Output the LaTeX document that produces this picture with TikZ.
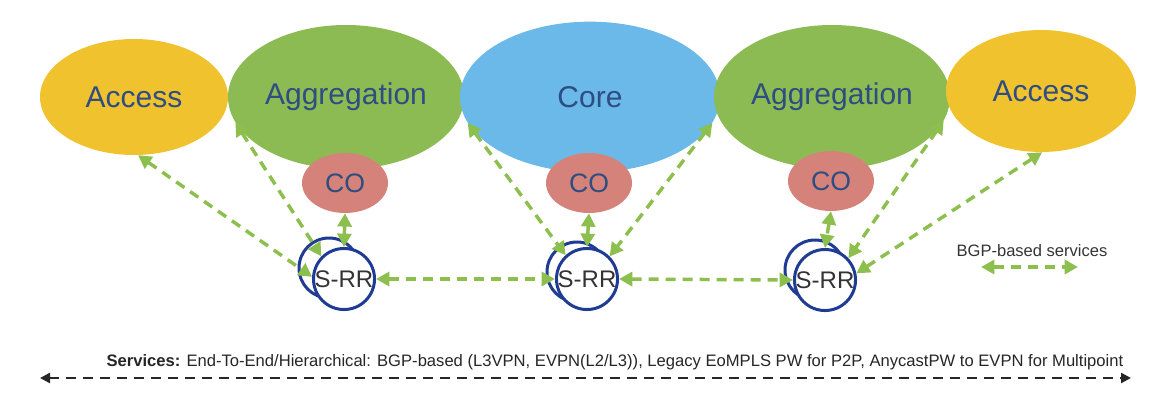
\documentclass[tikz,border=0pt]{standalone}
\usepackage{fontspec}
\setmainfont{Liberation Sans}
\usetikzlibrary{shapes.geometric,arrows.meta}
\definecolor{accessc}{HTML}{F0C22E}
\definecolor{aggc}{HTML}{8DBB53}
\definecolor{corec}{HTML}{6BB9E8}
\definecolor{coc}{HTML}{D5837A}
\definecolor{labc}{HTML}{2E4D82}
\definecolor{navy}{HTML}{1F3B93}
\definecolor{arrc}{HTML}{8DBF4F}
\tikzset{
  blob/.style={ellipse,inner sep=0pt,text=labc,font=\fontsize{22.5}{24}\selectfont},
  cobox/.style={ellipse,fill=coc,inner sep=0pt,minimum width=64.5pt,minimum height=45pt,text=labc,font=\fontsize{20}{22}\selectfont},
  srr/.style={circle,draw=navy,line width=2.25pt,fill=white,minimum size=45pt,inner sep=0pt,text=black!80,font=\fontsize{18}{20}\selectfont},
  bgp/.style={draw=arrc,line width=2.6pt,dash pattern=on 7.5pt off 5.25pt,{Triangle[length=10pt,width=10.5pt]}-{Triangle[length=10pt,width=10.5pt]}},
  svc/.style={draw=black!85,line width=1.8pt,dash pattern=on 7.5pt off 5.25pt,{Triangle[length=7.5pt,width=7.5pt]}-{Triangle[length=7.5pt,width=7.5pt]}}
}
\begin{document}
\begin{tikzpicture}[x=0.75pt,y=-0.75pt]
\useasboundingbox (0,0) rectangle (1167,410);
% ellipses
\node[blob,fill=accessc,minimum width=141pt,minimum height=87pt] (accL) at (134,97) {Access};
\node[blob,fill=aggc,minimum width=177pt,minimum height=108pt] (aggL) at (346,97) {Aggregation};
\node[blob,fill=corec,minimum width=195pt,minimum height=113pt] (core) at (590,97) {Core};
\node[blob,fill=aggc,minimum width=177pt,minimum height=108pt] (aggR) at (832,97) {Aggregation};
\node[blob,fill=accessc,minimum width=142.5pt,minimum height=91.5pt] (accR) at (1041,91) {Access};
% CO
\node[cobox] (coL) at (345,183) {CO};
\node[cobox] (coM) at (589,183) {CO};
\node[cobox] (coR) at (831,181) {CO};
% S-RR
\node[srr] (srrLb) at (329,268) {};
\node[srr] (srrL) at (344,279) {S-RR};
\node[srr] (srrMb) at (577,272) {};
\node[srr] (srrM) at (587,279) {S-RR};
\node[srr] (srrRb) at (815,270) {};
\node[srr] (srrR) at (825,280) {S-RR};
% BGP arrows
\draw[bgp] (accL.-86) -- (srrL.176);
\draw[bgp] (aggL.-167) -- (srrL.135);
\draw[bgp] (coL.south) -- (srrL.north);
\draw[bgp] (srrL.east) -- (srrM.west);
\draw[bgp] (core.-168) -- (srrM.132);
\draw[bgp] (core.-12) -- (srrM.45);
\draw[bgp] (coM.south) -- (srrM.north);
\draw[bgp] (srrM.east) -- (srrR.west);
\draw[bgp] (aggR.-12.6) -- (srrR.43);
\draw[bgp] (accR.-89) -- (srrR.12);
\draw[bgp] (coR.south) -- (srrR.north);
% legend
\node[font=\fontsize{12.4}{14}\selectfont,text=black!80] (leg) at (1032,251) {BGP-based services};
\coordinate (legA) at (981,267);
\coordinate (legB) at (1078,267);
\draw[bgp] (legA) -- (legB);
% services
\node[font=\fontsize{12.45}{14}\selectfont,text=black!85,anchor=east] (svct) at (1128,362) {\textbf{Services:} End-To-End/Hierarchical: BGP-based (L3VPN, EVPN(L2/L3)), Legacy EoMPLS PW for P2P, AnycastPW to EVPN for Multipoint};
\coordinate (svA) at (40,378);
\coordinate (svB) at (1131,378);
\draw[svc] (svA) -- (svB);
\end{tikzpicture}
\end{document}
